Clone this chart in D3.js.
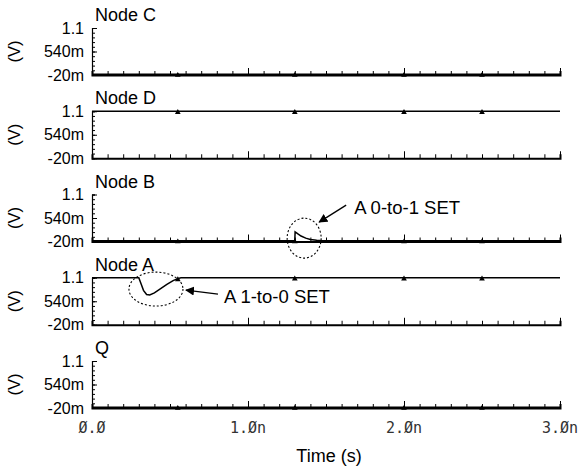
<!DOCTYPE html>
<html>
<head>
<meta charset="utf-8">
<script src="https://cdn.jsdelivr.net/npm/d3@7"></script>
<style>
  body { margin: 0; background: #fff; }
  svg { display: block; font-family: "Liberation Sans", Arial, sans-serif; }
</style>
</head>
<body>
<div id="chart"></div>
<script>
"use strict";

const width = 580;
const height = 466;

// panels, top to bottom
const panelNames = ["Node C", "Node D", "Node B", "Node A", "Q"];

// waveforms: time (ns) and voltage (V)
const nodeC = [[0, 0], [3, 0]];
const nodeD = [[0, 1.1], [3, 1.1]];
const nodeB = [[0, 0], [1.3, 0], [1.302, 0.21], [1.32, 0.16], [1.34, 0.11],
  [1.37, 0.06], [1.40, 0.03], [1.44, 0.01], [1.48, 0], [3, 0]];
const nodeA = [[0, 1.1], [0.30, 1.1], [0.315, 0.95], [0.33, 0.80], [0.35, 0.70],
  [0.37, 0.69], [0.40, 0.74], [0.44, 0.84], [0.48, 0.94], [0.52, 1.03],
  [0.55, 1.08], [0.57, 1.1], [3, 1.1]];
const nodeQ = [[0, 0], [3, 0]];
const seriesData = [nodeC, nodeD, nodeB, nodeA, nodeQ];

// waveform markers (ns)
const markerTimes = [0.55, 1.3, 2.0, 2.5];

// axes
const yTicks = [-0.02, 0.54, 1.1];
const yTickLabels = ["-20m", "540m", "1.1"];
const xTicks = [0, 1, 2, 3];
const xTickLabels = ["\u00d8.\u00d8", "1.\u00d8n", "2.\u00d8n", "3.\u00d8n"];

// annotations: panel, ellipse centre (ns, V), text
const annotPanels = ["Node B", "Node A"];
const annotCentre = [[1.36, 0.06], [0.41, 0.83]];
const annotText = ["A 0-to-1 SET", "A 1-to-0 SET"];

const margin = { left: 92, right: 20 };
const panelH = 47;

const x = d3.scaleLinear().domain([0, 3]).range([margin.left, width - margin.right]);
const panelTop = d3.scalePoint().domain(panelNames).range([28, 361]);
const yLocal = d3.scaleLinear().domain([-0.02, 1.1]).range([panelH, 0]);

const svg = d3.select("#chart").append("svg")
  .attr("width", width)
  .attr("height", height);

svg.append("defs").append("marker")
  .attr("id", "arrow")
  .attr("viewBox", "0 0 10 10")
  .attr("refX", 9).attr("refY", 5)
  .attr("markerWidth", 9).attr("markerHeight", 9)
  .attr("markerUnits", "userSpaceOnUse")
  .attr("orient", "auto")
  .append("path")
  .attr("d", "M0,0L10,5L0,10z")
  .attr("fill", "#000");

const line = d3.line().x(d => x(d[0])).y(d => yLocal(d[1]));

function valueAt(data, t) {
  const i = d3.bisector(d => d[0]).left(data, t);
  if (i <= 0) return data[0][1];
  if (i >= data.length) return data[data.length - 1][1];
  const a = data[i - 1], b = data[i];
  return a[1] + (b[1] - a[1]) * (t - a[0]) / (b[0] - a[0]);
}

const minorX = d3.range(0, 31).map(i => i / 10);
const minorY = d3.range(0, 11).map(i => -0.02 + i * 0.112);

panelNames.forEach((name, i) => {
  const g = svg.append("g")
    .attr("class", "panel")
    .attr("transform", `translate(0,${panelTop(name)})`);

  // x axis: minor and major ticks pointing up
  g.append("g")
    .attr("transform", `translate(0,${panelH})`)
    .call(d3.axisBottom(x).tickValues(minorX).tickSize(-4).tickFormat(""))
    .call(a => a.select(".domain").attr("stroke-width", 2))
    .call(a => a.selectAll(".tick line").attr("stroke-width", 1));
  g.append("g")
    .attr("transform", `translate(0,${panelH})`)
    .call(d3.axisBottom(x).tickValues(xTicks.slice(1)).tickSize(-7).tickFormat(""))
    .call(a => a.select(".domain").remove());

  // y axis
  g.append("g")
    .attr("transform", `translate(${margin.left},0)`)
    .call(d3.axisLeft(yLocal).tickValues(minorY).tickSize(-3).tickFormat(""))
    .call(a => a.select(".domain").attr("stroke-width", 1.2));
  g.append("g")
    .attr("transform", `translate(${margin.left},0)`)
    .call(d3.axisLeft(yLocal).tickValues(yTicks).tickSize(-5).tickPadding(8)
      .tickFormat((d, j) => yTickLabels[j]))
    .call(a => a.select(".domain").remove())
    .call(a => a.selectAll("text")
      .attr("font-size", 16)
      .attr("font-family", "Liberation Sans, Arial, sans-serif")
      .attr("fill", "#000"));

  // unit label
  g.append("text")
    .attr("transform", `translate(20,${panelH / 2}) rotate(-90)`)
    .attr("text-anchor", "middle")
    .attr("font-size", 16.5)
    .text("(V)");

  // title
  g.append("text")
    .attr("x", margin.left + 3)
    .attr("y", -7)
    .attr("font-size", 18)
    .text(name);

  // waveform
  g.append("path")
    .datum(seriesData[i])
    .attr("d", line)
    .attr("fill", "none")
    .attr("stroke", "#000")
    .attr("stroke-width", 1.5);

  g.selectAll(".mk")
    .data(markerTimes)
    .enter()
    .append("path")
    .attr("class", "mk")
    .attr("transform", t => `translate(${x(t)},${yLocal(valueAt(seriesData[i], t)) + 1})`)
    .attr("d", d3.symbol(d3.symbolTriangle, 14))
    .attr("fill", "#000");
});

// x tick labels under the bottom panel
const bottom = panelTop("Q") + panelH;
svg.append("g")
  .selectAll("text")
  .data(xTicks)
  .enter()
  .append("text")
  .attr("x", d => x(d))
  .attr("y", bottom + 25)
  .attr("text-anchor", "middle")
  .attr("font-family", "DejaVu Sans Mono, monospace")
  .attr("font-size", 15)
  .attr("fill", "#333")
  .text((d, i) => xTickLabels[i]);

svg.append("text")
  .attr("x", 329)
  .attr("y", bottom + 54)
  .attr("text-anchor", "middle")
  .attr("font-size", 18)
  .text("Time (s)");

// annotations
const ellipseR = [[17, 20], [27, 17]];
const arrowOff = [[[42, -33], [15, -16]], [[62, 5], [30, 1]]];
const textOff = [[50, -24], [68, 14]];

annotPanels.forEach((p, k) => {
  const cx = x(annotCentre[k][0]);
  const cy = panelTop(p) + yLocal(annotCentre[k][1]);
  svg.append("ellipse")
    .attr("cx", cx).attr("cy", cy)
    .attr("rx", ellipseR[k][0]).attr("ry", ellipseR[k][1])
    .attr("fill", "none")
    .attr("stroke", "#000")
    .attr("stroke-width", 1.1)
    .attr("stroke-dasharray", "2,2");
  svg.append("line")
    .attr("x1", cx + arrowOff[k][0][0]).attr("y1", cy + arrowOff[k][0][1])
    .attr("x2", cx + arrowOff[k][1][0]).attr("y2", cy + arrowOff[k][1][1])
    .attr("stroke", "#000")
    .attr("stroke-width", 1.3)
    .attr("marker-end", "url(#arrow)");
  svg.append("text")
    .attr("x", cx + textOff[k][0])
    .attr("y", cy + textOff[k][1])
    .attr("font-size", 18.5)
    .text(annotText[k]);
});
</script>
</body>
</html>
